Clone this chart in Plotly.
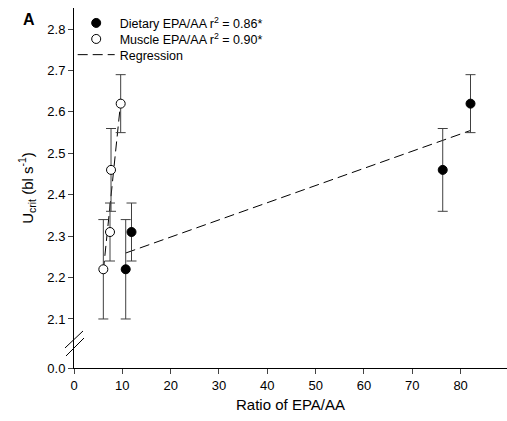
import numpy as np
import plotly.graph_objects as go

# Data
diet_x = [10.7, 11.9, 76.3, 82.05]
diet_y = [2.22, 2.31, 2.46, 2.62]
diet_err = [0.12, 0.07, 0.10, 0.07]

musc_x = [6.07, 7.45, 7.66, 9.66]
musc_y = [2.22, 2.31, 2.46, 2.62]
musc_err = [0.12, 0.07, 0.10, 0.07]

x_ticks = [0, 10, 20, 30, 40, 50, 60, 70, 80]
y_ticks = [2.1, 2.2, 2.3, 2.4, 2.5, 2.6, 2.7, 2.8]
y_zero_pos = 1.9816  # position where broken axis shows 0.0

FONT = "Liberation Sans, Arial, sans-serif"

fig = go.Figure()

err_style = dict(type="data", color="#404040", thickness=1, width=5)

# Regression lines
for xs, ys, show in [(diet_x, diet_y, True), (musc_x, musc_y, False)]:
    k, b = np.polyfit(xs, ys, 1)
    lx = np.array([min(xs), max(xs)])
    fig.add_trace(go.Scatter(
        x=lx, y=k * lx + b, mode="lines", name="Regression",
        line=dict(color="black", width=1, dash="10px,5px"),
        showlegend=show, legend="legend3", hoverinfo="skip"))

fig.add_trace(go.Scatter(
    x=diet_x, y=diet_y, mode="markers",
    name="Dietary EPA/AA r<sup>2</sup> = 0.86*",
    marker=dict(color="black", size=9, line=dict(color="black", width=1)),
    error_y=dict(array=diet_err, **err_style), legend="legend"))

fig.add_trace(go.Scatter(
    x=musc_x, y=musc_y, mode="markers",
    name="Muscle EPA/AA r<sup>2</sup> = 0.90*",
    marker=dict(color="white", size=9, line=dict(color="black", width=1)),
    error_y=dict(array=musc_err, **err_style), legend="legend2"))

# Axis break marks
for (x0, y0, x1, y1) in [(-0.0208, 0.0556, 0.0208, 0.1028),
                         (-0.0185, 0.0333, 0.0231, 0.0833)]:
    fig.add_shape(type="line", xref="paper", yref="paper",
                  x0=x0, y0=y0, x1=x1, y1=y1,
                  line=dict(color="black", width=1))

fig.add_annotation(text="<b>A</b>", xref="paper", yref="paper",
                   x=-0.103, y=0.969, xanchor="center", yanchor="middle",
                   showarrow=False, font=dict(size=16, color="black", family=FONT))

leg_common = dict(x=-0.003, xanchor="left", yanchor="middle",
                  bgcolor="rgba(0,0,0,0)", font=dict(size=12.5),
                  itemwidth=37)

fig.update_layout(
    width=507, height=421,
    margin=dict(l=74, r=0, t=8, b=53),
    plot_bgcolor="white", paper_bgcolor="white",
    font=dict(family=FONT, size=13, color="black"),
    showlegend=True,
    legend=dict(y=0.9575, **leg_common),
    legend2=dict(y=0.913, **leg_common),
    legend3=dict(y=0.8694, **leg_common),
    xaxis=dict(range=[0, 89.6], tickvals=x_ticks, ticks="outside", ticklen=5,
               showline=True, linecolor="black", linewidth=1,
               showgrid=False, zeroline=False,
               title=dict(text="Ratio of EPA/AA", font=dict(size=15), standoff=7)),
    yaxis=dict(range=[y_zero_pos, 2.851],
               tickvals=[y_zero_pos] + y_ticks,
               ticktext=["0.0"] + [f"{v:.1f}" for v in y_ticks],
               ticks="outside", ticklen=5,
               showline=True, linecolor="black", linewidth=1,
               showgrid=False, zeroline=False,
               title=dict(text="U<sub>crit</sub> (bl s<sup>-1</sup>)",
                          font=dict(size=15), standoff=10)),
)

fig.write_html("out.html")
